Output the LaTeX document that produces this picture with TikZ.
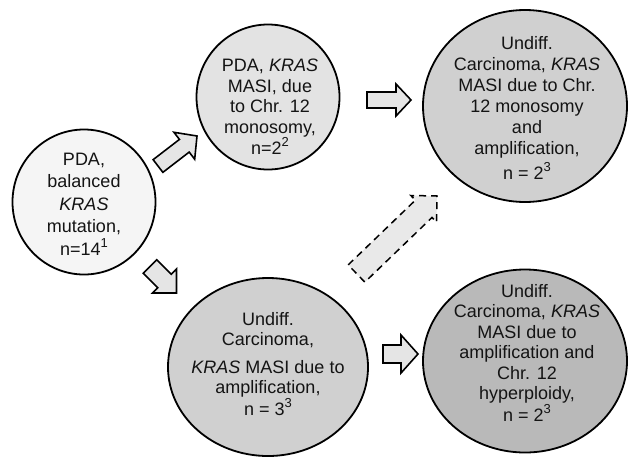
\documentclass[tikz,border=0pt]{standalone}
\usepackage{fontspec}
\setmainfont{Liberation Sans}
\usetikzlibrary{calc,shapes.geometric}
\newcommand\blockarr[7]{% #1 name, #2 tail, #3 tip, #4 shaft half, #5 head half, #6 head length, #7 style
  \coordinate (#1-h) at ($(#3)!#6!(#2)$);
  \draw[#7] ($(#2)!#4!90:(#3)$) -- ($(#1-h)!#4!90:(#3)$) -- ($(#1-h)!#5!90:(#3)$) -- (#3)
    -- ($(#1-h)!#5!-90:(#3)$) -- ($(#1-h)!#4!-90:(#3)$) -- ($(#2)!#4!-90:(#3)$) -- cycle;
}
\newcommand\supr[1]{\raisebox{0.45em}{\fontsize{13}{13}\selectfont #1}}
\begin{document}
\begin{tikzpicture}[x=1pt,y=-1pt,
  stage/.style={ellipse, draw=black, line width=1.8pt, inner sep=0pt},
  txt/.style={align=center, inner sep=0pt, text=black!92},
  barrow/.style={draw=black, fill=gray!20, line width=1.6pt, line join=miter},
  darrow/.style={barrow, fill=gray!17, dash pattern=on 7pt off 5pt, line width=1.5pt}]
\useasboundingbox[fill=white] (0,0) rectangle (628,458);

% stages
\node[stage, fill=gray!8, minimum width=143pt, minimum height=145pt] (c1) at (84,202) {};
\node[stage, fill=gray!22, minimum width=143pt, minimum height=145pt] (c2) at (268,97) {};
\node[stage, fill=gray!37, minimum width=204pt, minimum height=192pt] (c3) at (525,106) {};
\node[stage, fill=gray!37, minimum width=200pt, minimum height=178pt] (c4) at (268,367) {};
\node[stage, fill=gray!55, minimum width=204pt, minimum height=183pt] (c5) at (525,361) {};

% texts
\node[txt, font=\fontsize{18}{22.5}\selectfont] (t1) at (84,204)
  {PDA,\\balanced\\\textit{KRAS}\\mutation,\\n=14\supr{1}};
\node[txt, font=\fontsize{18}{20.5}\selectfont] (t2) at (270,107)
  {PDA, \textit{KRAS}\\MASI, due\\to Chr. 12\\monosomy,\\n=2\supr{2}};
\node[txt, font=\fontsize{18}{21}\selectfont] (t3) at (527,108)
  {Undiff.\\Carcinoma, \textit{KRAS}\\MASI due to Chr.\\12 monosomy\\and\\amplification,\\[4pt]n = 2\supr{3}};
\node[txt, font=\fontsize{18}{20}\selectfont] (t4) at (268,364)
  {Undiff.\\Carcinoma,\\[8pt]\textit{KRAS} MASI due to\\amplification,\\n = 3\supr{3}};
\node[txt, font=\fontsize{18}{20.5}\selectfont] (t5) at (527,353)
  {Undiff.\\Carcinoma, \textit{KRAS}\\MASI due to\\amplification and\\Chr. 12\\hyperploidy,\\n = 2\supr{3}};

% block arrows
\coordinate (a1t) at (158,166); \coordinate (a1p) at (197,136);
\coordinate (a2t) at (367,100); \coordinate (a2p) at (411,100);
\coordinate (a3t) at (150,266.5); \coordinate (a3p) at (176.5,293);
\coordinate (a4t) at (383,354); \coordinate (a4p) at (418,354);
\coordinate (a5t) at (356.5,273.5); \coordinate (a5p) at (437,196);
\blockarr{a1}{a1t}{a1p}{8pt}{17pt}{16pt}{barrow}
\blockarr{a2}{a2t}{a2p}{8pt}{16pt}{15pt}{barrow}
\blockarr{a3}{a3t}{a3p}{9.5pt}{17pt}{17pt}{barrow}
\blockarr{a4}{a4t}{a4p}{9pt}{19pt}{17pt}{barrow}
\blockarr{a5}{a5t}{a5p}{12pt}{18.5pt}{18.5pt}{darrow}
\end{tikzpicture}
\end{document}
